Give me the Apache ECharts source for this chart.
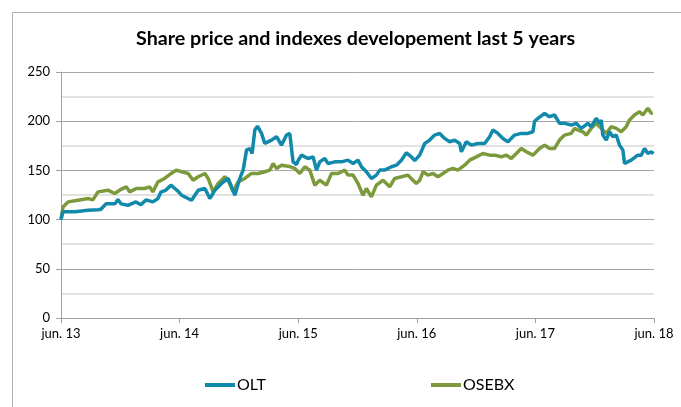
<!DOCTYPE html>
<html>
<head>
<meta charset="utf-8">
<script src="https://cdn.jsdelivr.net/npm/echarts@6/dist/echarts.min.js"></script>
<style>
html,body{margin:0;padding:0;background:#fff;}
#chart{width:681px;height:407px;}
</style>
</head>
<body>
<div id="chart"></div>
<script>
// x = months since June 2013
const tickLabels = ["jun. 13","jun. 14","jun. 15","jun. 16","jun. 17","jun. 18"];

const oltX = [0,0.2,1.42,2.73,3.74,4.04,4.55,5.46,5.76,6.07,6.77,7.58,8.09,8.59,9.30,9.81,10.11,10.62,11.12,11.52,11.83,12.20,13.21,13.88,14.56,15.06,15.57,16.25,16.91,17.59,18.09,18.43,18.77,19.11,19.34,19.61,19.88,20.29,20.62,21.30,21.81,22.31,22.82,23.15,23.48,23.83,23.99,24.33,25.00,25.51,25.85,26.18,26.69,27.02,27.70,28.38,29.04,29.55,30.05,30.40,30.90,31.41,31.91,32.25,32.75,33.43,33.94,34.44,34.95,35.45,35.79,36.29,36.80,37.30,37.81,38.31,38.82,39.32,39.83,40.34,40.51,41.01,41.52,42.19,42.86,43.37,43.70,44.21,44.71,45.22,45.89,46.57,47.24,47.75,47.92,48.25,48.93,49.43,49.94,50.44,50.95,51.63,52.13,52.64,53.31,53.65,54.15,54.49,54.66,54.82,55.17,55.50,55.84,56.18,56.51,56.85,57.02,57.69,58.36,58.71,59.04,59.38,59.72,59.95];
const oltY = [100,108,108,109.5,110,110.5,116,116,120.5,116,114.5,118,115,120,118,121.5,128,130,135,131.6,129,124.8,119.7,129.9,131.6,121.4,129.9,136.7,141.8,124.8,141.8,150.3,170.6,172.3,167,191,195,187.6,177.4,180.8,184.2,175.7,185.9,187.6,158.7,156,160,165.5,162.1,163.8,150.3,158.7,162.1,157,158.7,158.7,160.4,157,160.4,153.7,148.6,141.8,145.2,150.3,150.3,153.7,155.3,160.4,167.9,163.8,160,165.5,177.4,180.8,185.9,187.6,182.5,179.1,180.8,177.4,168.9,179.1,175.7,177.4,177.4,184.2,191,187.6,182.5,179.1,185.9,187.6,187.6,189.3,200,202.9,207.9,204.6,206.3,197.8,197.8,196.1,197.8,192.7,197.8,194.4,202.9,197.8,201.2,185.9,180.8,189.3,184.2,185.9,175.7,170.6,157,160.4,165.5,165.5,172.3,167.2,168.9,167];

const osebxX = [0,0.2,0.71,1.72,2.73,3.23,3.74,4.75,5.43,5.93,6.60,6.95,7.61,8.46,8.97,9.30,9.81,10.48,11.15,11.66,12.20,12.87,13.37,13.88,14.56,14.89,15.40,15.90,16.58,16.91,17.42,17.92,18.60,19.28,19.95,20.62,21.13,21.46,21.81,22.31,22.98,23.66,24.16,24.67,25.17,25.68,26.18,26.86,27.37,28.03,28.71,29.04,29.55,30.05,30.56,30.90,31.41,31.91,32.58,33.26,33.76,34.44,35.11,35.61,35.95,36.29,36.63,37.13,37.64,38.14,38.65,39.15,39.66,40.16,40.84,41.35,42.02,42.69,43.37,43.87,44.55,45.06,45.56,46.07,46.57,47.08,47.75,48.09,48.42,48.93,49.43,49.94,50.44,50.95,51.63,51.96,52.30,52.80,53.14,53.65,54.15,54.66,55.17,55.67,56.18,56.68,57.19,57.52,58.03,58.54,58.87,59.38,59.72,59.88];
const osebxY = [100,112.9,118,119.7,121.4,120,128.2,129.9,126.5,129.9,133.3,128.2,131.6,131.6,133.3,128.2,138.4,141.8,146.9,150.3,148.6,146.9,140,143.5,146.9,141.8,128.2,136.7,143.5,140,128.2,138.4,141.8,146.9,146.9,148.6,150.3,157,152,155.3,154.3,152,146.9,153.7,150.3,135,140,135,146.9,146.9,150.3,145.2,145.2,136.7,124.8,131.6,123.1,135,140,133.3,141.8,143.5,145.2,140,136.7,140,148.6,145.2,146.9,143.5,146.9,150.3,152,150.3,155.3,160.4,163.8,167.2,165.5,165.5,163.8,165.5,162.1,167.2,172.3,168.9,165.5,168.9,172.3,175.7,172.3,172.3,180.8,185.9,187.6,192.7,191,189.3,185.9,192.7,197.8,192.7,187.6,194.4,192.7,189.3,194.4,201.2,206.3,209.7,206.3,213.1,208,208];

const pair = (xs, ys) => xs.map((x, i) => [x, ys[i]]);
const font = 'Lato, "Open Sans", sans-serif';

const chart = echarts.init(document.getElementById('chart'), null, {renderer: 'canvas'});
chart.setOption({
  animation: false,
  backgroundColor: '#fff',
  graphic: [{
    type: 'rect', left: 10, top: 10, silent: true, z: -1,
    shape: {x: 0, y: 0, width: 720, height: 440},
    style: {fill: 'none', stroke: '#b0b0b0', lineWidth: 1}
  }],
  title: {
    text: 'Share price and indexes developement last 5 years',
    left: 131, top: 24,
    textStyle: {fontFamily: font, fontSize: 19.7, fontWeight: 'bold', color: '#000'}
  },
  legend: [{
    left: 200, top: 372, itemWidth: 30, itemHeight: 4, itemGap: 4,
    icon: 'rect', data: ['OLT'],
    textStyle: {fontFamily: font, fontSize: 16, color: '#000', padding: [0,0,0,-3]}
  }, {
    left: 426, top: 372, itemWidth: 30, itemHeight: 4, itemGap: 4,
    icon: 'rect', data: ['OSEBX'],
    textStyle: {fontFamily: font, fontSize: 16, color: '#000', padding: [0,0,0,-3]}
  }],
  grid: {left: 61, right: 27, top: 72, bottom: 89, containLabel: false},
  xAxis: {
    type: 'value', min: 0, max: 60, interval: 12,
    axisLine: {show: true, lineStyle: {color: '#a0a0a0', width: 1}},
    axisTick: {show: true, length: 5, lineStyle: {color: '#a0a0a0'}},
    splitLine: {show: false},
    axisLabel: {
      margin: 9, fontFamily: font, fontSize: 13, color: '#000',
      formatter: v => tickLabels[Math.round(v / 12)] || ''
    }
  },
  yAxis: {
    type: 'value', min: 0, max: 250, interval: 50,
    axisLine: {show: true, lineStyle: {color: '#a0a0a0', width: 1}},
    axisTick: {show: true, length: 5, lineStyle: {color: '#a0a0a0'}},
    splitLine: {show: true, lineStyle: {color: '#a6a6a6', width: 1}},
    minorTick: {show: false, splitNumber: 2},
    minorSplitLine: {show: true, lineStyle: {color: '#d9d9d9', width: 1.5}},
    axisLabel: {margin: 11, fontFamily: font, fontSize: 13, color: '#000'}
  },
  series: [{
    name: 'OLT', type: 'line', data: pair(oltX, oltY),
    showSymbol: false, symbol: 'none', smooth: false,
    lineStyle: {color: '#1189ab', width: 3.5}, itemStyle: {color: '#1189ab'}, z: 3
  }, {
    name: 'OSEBX', type: 'line', data: pair(osebxX, osebxY),
    showSymbol: false, symbol: 'none', smooth: false,
    lineStyle: {color: '#7c9a3c', width: 3.5}, itemStyle: {color: '#7c9a3c'}, z: 2
  }]
});
</script>
</body>
</html>
